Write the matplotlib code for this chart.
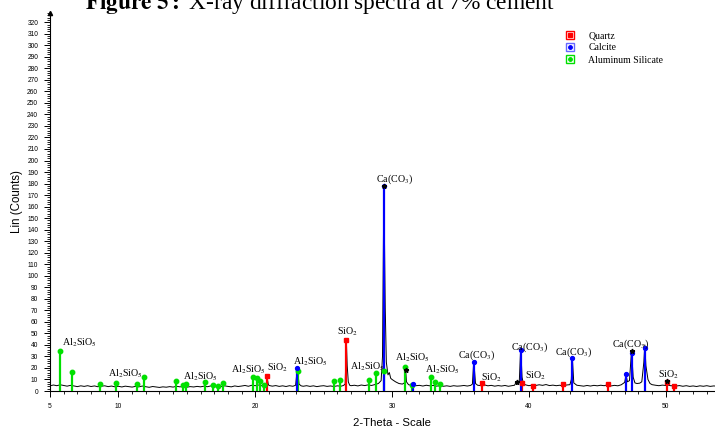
import numpy as np
import matplotlib.pyplot as plt
from matplotlib.lines import Line2D
from matplotlib.legend_handler import HandlerTuple
from matplotlib.ticker import MultipleLocator, FixedLocator

plt.rcParams['mathtext.fontset'] = 'stix'

scan = [
    (5.0, 4.5), (5.25, 5.2), (5.5, 4.6), (5.75, 5.4),
    (6.0, 4.8), (6.25, 4.2), (6.5, 4.9), (6.75, 4.4),
    (7.0, 3.8), (7.25, 4.5), (7.5, 4.0), (7.75, 4.6),
    (8.0, 3.9), (8.25, 4.4), (8.5, 3.7), (8.75, 4.2),
    (9.0, 4.5), (9.25, 3.8), (9.5, 4.3), (9.75, 3.6),
    (10.0, 4.1), (10.25, 3.5), (10.5, 4.2), (10.75, 3.8),
    (11.0, 3.4), (11.25, 4.0), (11.5, 3.6), (11.75, 4.3),
    (12.0, 3.7), (12.25, 3.2), (12.5, 3.9), (12.75, 3.5),
    (13.0, 3.1), (13.25, 3.6), (13.5, 3.3), (13.75, 3.8),
    (14.0, 3.4), (14.25, 4.1), (14.5, 3.6), (14.75, 3.9),
    (15.0, 3.3), (15.25, 3.8), (15.5, 3.5), (15.75, 4.0),
    (16.0, 3.6), (16.25, 4.2), (16.5, 3.7), (16.75, 4.4),
    (17.0, 3.8), (17.25, 4.3), (17.5, 3.9), (17.75, 4.5),
    (18.0, 4.0), (18.25, 3.6), (18.5, 4.4), (18.75, 3.9),
    (19.0, 4.3), (19.25, 4.8), (19.5, 4.1), (19.75, 5.0),
    (20.0, 4.6), (20.25, 5.2), (20.5, 4.5), (20.7, 5.6),
    (20.8, 5.0), (20.87, 11.5), (20.95, 6.0),
    (21.0, 4.8), (21.25, 4.2), (21.5, 4.7), (21.75, 4.0),
    (22.0, 4.5), (22.25, 3.9), (22.5, 4.6), (22.75, 4.1),
    (22.95, 5.0), (23.08, 20.5), (23.2, 6.0), (23.35, 4.5), (23.5, 4.1), (23.75, 4.6),
    (24.0, 4.0), (24.25, 4.5), (24.5, 3.8), (24.75, 4.3),
    (25.0, 4.6), (25.25, 4.0), (25.5, 4.4), (25.75, 3.9),
    (26.0, 4.5), (26.25, 4.1), (26.45, 4.8), (26.57, 6.0),
    (26.66, 43.0), (26.72, 22.0), (26.8, 8.0), (26.9, 5.0),
    (27.0, 4.6), (27.25, 5.0), (27.5, 4.4), (27.75, 5.2),
    (28.0, 4.7), (28.25, 5.3), (28.5, 4.8), (28.75, 5.6),
    (29.0, 6.5), (29.2, 9.0), (29.3, 30.0), (29.4, 178.0), (29.45, 125.0),
    (29.5, 72.0), (29.58, 25.0), (29.7, 14.0), (29.8, 16.0), (29.9, 11.0),
    (30.0, 10.0), (30.25, 8.0), (30.5, 6.5), (30.75, 6.0),
    (30.9, 7.0), (30.98, 21.0), (31.05, 8.0), (31.2, 5.5),
    (31.35, 5.0), (31.5, 5.8), (31.75, 4.6),
    (32.0, 4.9), (32.25, 4.3), (32.5, 5.0), (32.75, 4.5),
    (33.0, 4.8), (33.25, 4.2), (33.5, 4.7), (33.75, 4.1),
    (34.0, 4.5), (34.25, 4.0), (34.5, 4.6), (34.75, 4.2),
    (35.0, 4.4), (35.25, 4.8), (35.5, 4.3), (35.75, 4.9),
    (35.87, 6.0), (35.97, 26.0), (36.1, 6.5),
    (36.25, 5.0), (36.5, 4.6), (36.75, 5.3),
    (37.0, 4.5), (37.25, 4.9), (37.5, 4.2), (37.75, 4.7),
    (38.0, 4.3), (38.25, 4.8), (38.5, 4.1), (38.75, 4.6),
    (38.95, 5.0), (39.1, 8.5), (39.2, 5.5), (39.3, 9.0), (39.4, 37.5),
    (39.5, 12.0), (39.6, 6.0), (39.8, 5.2),
    (40.0, 4.6), (40.25, 5.2), (40.5, 4.8), (40.75, 5.4),
    (41.0, 4.9), (41.25, 5.6), (41.5, 4.7), (41.75, 5.1),
    (42.0, 4.6), (42.25, 5.0), (42.5, 4.4), (42.75, 5.2),
    (43.0, 5.5), (43.1, 10.0), (43.17, 30.0), (43.28, 7.0), (43.5, 5.0), (43.75, 4.6),
    (44.0, 4.2), (44.25, 4.8), (44.5, 4.3), (44.75, 4.9),
    (45.0, 4.5), (45.25, 5.0), (45.5, 4.6), (45.7, 5.2), (45.8, 7.0), (45.9, 4.8),
    (46.0, 4.4), (46.25, 4.9), (46.5, 4.5), (46.75, 5.4),
    (47.0, 7.5), (47.1, 14.0), (47.2, 8.0), (47.35, 9.0), (47.5, 35.0),
    (47.62, 12.0), (47.75, 7.0), (47.9, 6.5),
    (48.1, 6.8), (48.25, 8.0), (48.4, 25.0), (48.47, 40.0), (48.55, 22.0),
    (48.7, 10.0), (48.85, 6.5),
    (49.0, 5.5), (49.25, 5.0), (49.5, 4.6), (49.75, 5.1),
    (50.0, 4.8), (50.1, 9.0), (50.2, 5.0), (50.4, 4.5), (50.6, 5.0), (50.75, 4.3),
    (51.0, 4.7), (51.25, 4.1), (51.5, 4.6), (51.75, 4.0),
    (52.0, 4.4), (52.25, 3.9), (52.5, 4.5), (52.75, 4.1),
    (53.0, 4.6), (53.25, 4.0), (53.5, 4.4), (53.75, 4.2),
]
two_theta = [p[0] for p in scan]
counts = [p[1] for p in scan]

# reference patterns
quartz_pos = [20.88, 26.66, 36.55, 39.48, 40.3, 42.46, 45.8, 50.12, 50.62]
quartz_h = [13, 44, 7, 7, 4.5, 6, 6, 8, 4]
calcite_pos = [23.08, 29.42, 31.5, 35.98, 39.4, 43.16, 47.1, 47.52, 48.48]
calcite_h = [20, 178, 6, 25.5, 35.5, 29, 14.7, 32.7, 37]
alsil_pos = [5.71, 6.59, 8.68, 9.85, 11.34, 11.9, 14.22, 14.7, 14.95, 16.36,
             16.92, 17.31, 17.65, 19.85, 20.14, 20.38, 20.62, 23.12, 25.79,
             26.18, 28.3, 28.84, 29.4, 30.98, 31.42, 32.81, 33.12, 33.49]
alsil_h = [34.4, 16.8, 6.1, 6.7, 6.1, 12.1, 8.7, 5.5, 5.8, 7.5,
           5.2, 4.3, 6.7, 11.9, 11, 8.7, 5.2, 17.6, 8.9,
           9.5, 9.5, 15.9, 17.6, 20.5, 5.5, 12.4, 7.5, 5.8]
star_pos = [29.4, 31.0, 39.1, 47.52, 50.1]
star_h = [178, 18, 8, 35, 9]

labels = ['Al$_2$SiO$_5$', 'Al$_2$SiO$_5$', 'Al$_2$SiO$_5$', 'Al$_2$SiO$_5$', 'SiO$_2$',
          'Al$_2$SiO$_5$', 'SiO$_2$', 'Al$_2$SiO$_5$', 'Ca(CO$_3$)', 'Al$_2$SiO$_5$',
          'Al$_2$SiO$_5$', 'Ca(CO$_3$)', 'SiO$_2$', 'Ca(CO$_3$)', 'SiO$_2$',
          'Ca(CO$_3$)', 'Ca(CO$_3$)', 'SiO$_2$']
label_x = [5.91, 9.27, 14.75, 18.2, 20.85, 22.79, 25.94, 26.96, 28.79, 30.18,
           32.44, 34.85, 36.53, 38.72, 39.75, 41.94, 46.04, 49.47]
label_y = [41.6, 14.7, 12.1, 18.2, 19.9, 25.2, 51.2, 20.8, 183.9, 28.6,
           18.2, 31.2, 11.3, 38.2, 13.0, 33.8, 40.8, 13.9]

fig = plt.figure(figsize=(7.15, 4.3), dpi=100)
ax = fig.add_axes([50/715, 39/430, 665/715, 378/430])

ax.plot(two_theta, counts, color='k', lw=0.7, zorder=2)

ax.vlines(alsil_pos, 0, alsil_h, color='#00e000', lw=1.6, zorder=3)
ax.plot(alsil_pos, alsil_h, 'o', color='#00e000', ms=3.2, zorder=4)
ax.vlines(quartz_pos, 0, quartz_h, color='#ff0000', lw=1.6, zorder=3)
ax.plot(quartz_pos, quartz_h, 's', color='#ff0000', ms=3.2, zorder=4)
ax.vlines(calcite_pos, 0, calcite_h, color='#0000ff', lw=1.6, zorder=3)
ax.plot(calcite_pos, calcite_h, 'o', color='#0000ff', ms=2.8, zorder=4)
ax.plot(star_pos, star_h, '*', color='k', ms=3.5, zorder=5)

for t, x, y in zip(labels, label_x, label_y):
    ax.text(x, y, t, fontsize=7.2, family='Liberation Serif', ha='left', va='center', zorder=6)

ax.set_xlim(5, 53.6)
ax.set_ylim(0, 328)
ax.spines['top'].set_visible(False)
ax.spines['right'].set_visible(False)
ax.spines['left'].set_linewidth(0.8)
ax.spines['bottom'].set_linewidth(0.8)
ax.plot(0, 1, '^k', ms=3, transform=ax.transAxes, clip_on=False)

ax.xaxis.set_major_locator(FixedLocator([5, 10, 20, 30, 40, 50]))
ax.xaxis.set_minor_locator(MultipleLocator(1))
ax.yaxis.set_major_locator(MultipleLocator(10))
ax.yaxis.set_minor_locator(MultipleLocator(2))
ax.tick_params(axis='both', which='major', length=4, width=0.7, labelsize=4.8, pad=4.5)
ax.tick_params(axis='both', which='minor', length=2, width=0.6)
for lab in ax.get_xticklabels() + ax.get_yticklabels():
    lab.set_family('Liberation Sans')

ax.set_ylabel('Lin (Counts)', fontsize=8.3, family='Liberation Sans', va='center')
ax.yaxis.set_label_coords((17 - 50) / 665, 0.5)
ax.set_xlabel('2-Theta - Scale', fontsize=8.2, family='Liberation Sans', va='center')
ax.xaxis.set_label_coords((392 - 50) / 665, -(423 - 391) / 378)

fig.text(85/715, 1 - 8.5/430, r'$\mathbf{Figure\ 5{:}}$ X-ray diffraction spectra at 7% cement',
         fontsize=16.8, family='Liberation Serif', ha='left', va='baseline')

h_q = (Line2D([], [], marker='s', ls='', ms=6, mfc='none', mec='#ff0000', mew=1),
       Line2D([], [], marker='s', ls='', ms=3, color='#ff0000'))
h_c = (Line2D([], [], marker='s', ls='', ms=6, mfc='none', mec='#6666ff', mew=1),
       Line2D([], [], marker='o', ls='', ms=2.5, color='#0000ff'))
h_a = (Line2D([], [], marker='s', ls='', ms=6, mfc='none', mec='#00e000', mew=1),
       Line2D([], [], marker='o', ls='', ms=2.5, color='#00e000'))
fig.legend([h_q, h_c, h_a], ['Quartz', 'Calcite', 'Aluminum Silicate'],
           handler_map={tuple: HandlerTuple(ndivide=1)},
           loc='upper left', bbox_to_anchor=(565/715, 1 - 31/430),
           frameon=False, borderpad=0, borderaxespad=0, handlelength=1,
           handletextpad=1.4, labelspacing=0.35,
           prop={'family': 'Liberation Serif', 'size': 7})

fig.savefig('out.png', dpi=100)
